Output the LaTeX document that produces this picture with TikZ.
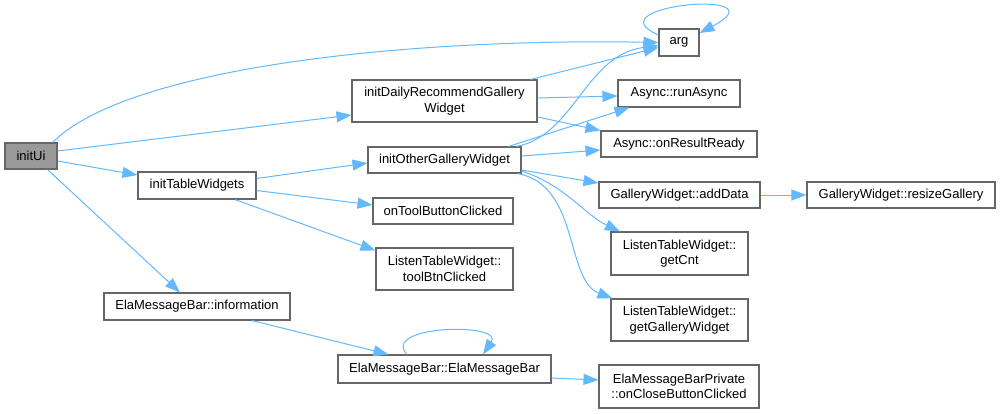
\documentclass[tikz,border=0pt]{standalone}
\usepackage{fontspec}
\setmainfont{Liberation Sans}
\usetikzlibrary{arrows.meta}
\definecolor{cedge}{HTML}{63B8FF}
\definecolor{cframe}{HTML}{666666}
\definecolor{croot}{HTML}{999999}
\tikzset{
  every picture/.style={x=1pt, y=-1pt},
  fn/.style 2 args={draw=cframe, fill=white, line width=1.1pt, align=center, inner sep=1pt,
    font=\fontsize{13}{15.5}\selectfont, minimum width=#1, minimum height=#2},
  root/.style={fill=croot},
  call/.style={-{Triangle[length=15pt, width=11pt, fill=cedge]}, draw=cedge, line width=1pt},
}

\begin{document}
\begin{tikzpicture}
  \useasboundingbox (0,0) rectangle (1000,413);
  % first column
  \node[fn={52pt}{26pt}, root] (initUi) at (31,156) {initUi};
  % second column
  \node[fn={118pt}{27pt}] (tables) at (197,185.5) {initTableWidgets};
  \node[fn={186pt}{27pt}] (info) at (197,306.5) {ElaMessageBar::information};
  % third column
  \node[fn={185pt}{42pt}] (daily) at (444.5,101) {initDailyRecommendGallery\\Widget};
  \node[fn={153pt}{26pt}] (other) at (444.5,160) {initOtherGalleryWidget};
  \node[fn={140pt}{26pt}] (tool) at (443,211) {onToolButtonClicked};
  \node[fn={137pt}{42pt}] (toolBtn) at (444.5,269) {ListenTableWidget::\\toolBtnClicked};
  \node[fn={213pt}{28pt}] (ela) at (444.5,369) {ElaMessageBar::ElaMessageBar};
  % fourth column
  \node[fn={40pt}{27pt}] (arg) at (679,42.5) {arg};
  \node[fn={122pt}{27pt}] (run) at (679,93.5) {Async::runAsync};
  \node[fn={156pt}{26pt}] (result) at (679,144) {Async::onResultReady};
  \node[fn={161pt}{26pt}] (add) at (679.5,195) {GalleryWidget::addData};
  \node[fn={137pt}{43pt}] (getCnt) at (679.5,253.5) {ListenTableWidget::\\getCnt};
  \node[fn={137pt}{42pt}] (getGW) at (679.5,320) {ListenTableWidget::\\getGalleryWidget};
  \node[fn={160pt}{43pt}] (close) at (679,386.5) {ElaMessageBarPrivate\\::onCloseButtonClicked};
  % fifth column
  \node[fn={188pt}{26pt}] (resize) at (901,195) {GalleryWidget::resizeGallery};

  % calls of initUi
  \draw[call] ([xshift=-5pt]initUi.north east) .. controls (130,65) and (420,38) .. (arg.west);
  \draw[call] ([yshift=5pt]initUi.east) -- ([yshift=-14pt]daily.west);
  \draw[call] ([yshift=-5pt]initUi.east) -- ([yshift=10.5pt]tables.west);
  \draw[call] ([xshift=-10pt]initUi.south east) -- ([xshift=-17pt]info.north);
  % calls of initTableWidgets
  \draw[call] ([yshift=7pt]tables.east) -- ([yshift=-3pt]other.west);
  \draw[call] ([yshift=-5pt]tables.east) -- ([yshift=6pt]tool.west);
  \draw[call] ([xshift=38pt]tables.south) -- ([yshift=-3pt]toolBtn.north west);
  % calls of initDailyRecommendGalleryWidget
  \draw[call] ([xshift=-7pt]daily.north east) -- ([yshift=-5pt]arg.west);
  \draw[call] ([yshift=3pt]daily.east) -- ([yshift=-2.5pt]run.west);
  \draw[call] ([yshift=-16pt]daily.east) -- (result.north west);
  % calls of initOtherGalleryWidget
  \draw[call] ([xshift=-5pt]other.north east) .. controls (575,135) and (585,55) .. ([yshift=-3pt]arg.west);
  \draw[call] ([xshift=-13pt]other.north east) -- ([xshift=12pt]run.south west);
  \draw[call] ([yshift=4pt]other.east) -- ([yshift=-6pt]result.west);
  \draw[call] ([yshift=-10pt]other.east) -- ([yshift=12pt]add.west);
  \draw[call] ([yshift=-11pt]other.east) .. controls (565,185) and (585,215) .. ([xshift=-59.5pt]getCnt.north);
  \draw[call] ([xshift=-4pt]other.south east) .. controls (580,185) and (565,280) .. ([xshift=2pt]getGW.north west);
  % remaining calls
  \draw[call] (add) -- (resize);
  \draw[call] ([yshift=7.5pt]arg.west) .. controls (590,5) and (785,-12) .. ([yshift=9.5pt]arg.east);
  \draw[call] ([xshift=55pt]info.south) -- ([xshift=-56pt]ela.north);
  \draw[call] ([xshift=-37.5pt]ela.north) .. controls (380,325) and (505,322) .. ([xshift=38.5pt]ela.north);
  \draw[call] ([yshift=-9pt]ela.east) -- ([yshift=6.5pt]close.west);
\end{tikzpicture}
\end{document}
